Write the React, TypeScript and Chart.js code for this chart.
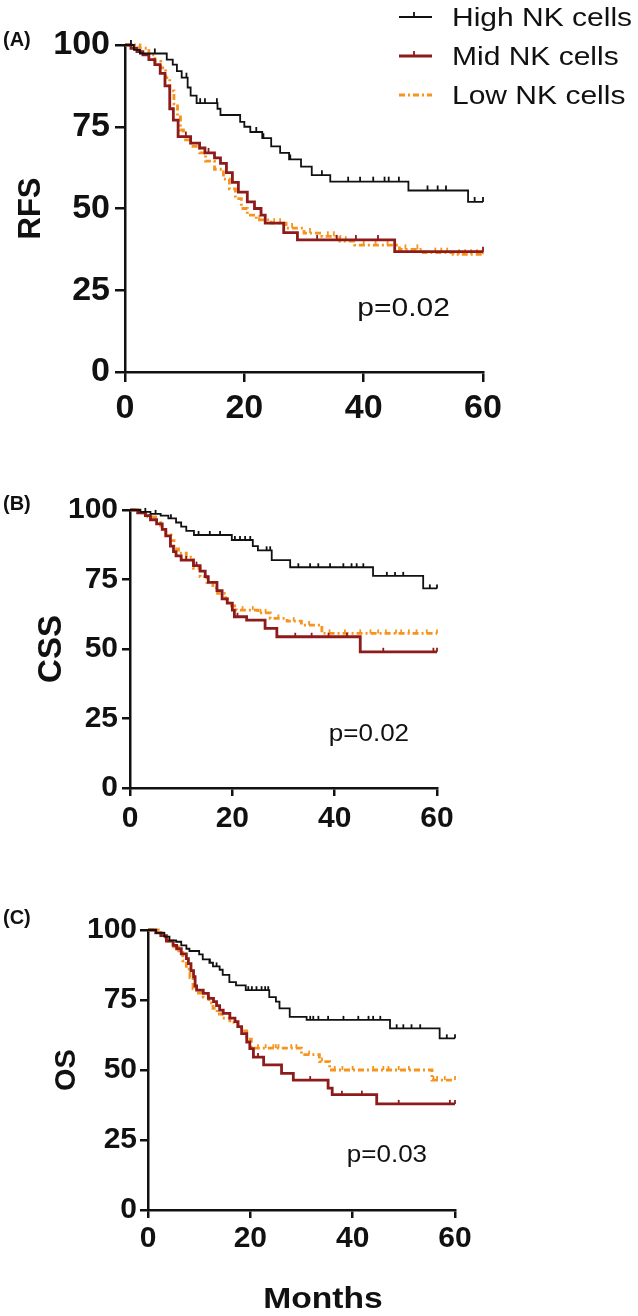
import React, { useEffect, useRef } from "react";
import { Chart, registerables } from "chart.js";
Chart.register(...registerables);
Chart.defaults.font.family = "'Liberation Sans', Arial, sans-serif";

type Pt = [number, number];

// ---------- shared labels ----------
const xTicks = [0, 20, 40, 60];
const yTicks = [0, 25, 50, 75, 100];
const seriesNames = ["High NK cells", "Mid NK cells", "Low NK cells"];
const seriesColors = ["#111111", "#8E1B1B", "#F7941D"];
const panelTitles = ["RFS", "CSS", "OS"];
const panelLetters = ["(A)", "(B)", "(C)"];
const pValues = ["p=0.02", "p=0.02", "p=0.03"];
const pValuePos: Pt = [46.7, 20];
const xAxisTitle = "Months";

// ---------- (A) RFS ----------
const rfsHighEvents: Pt[] = [[0,100],[1.5,98.5],[2.5,97.4],[7,95.5],[8,94],[8.7,92],[9.5,90],[10.5,87],[11,84.5],[12,82.2],[15.5,80.5],[16,78.6],[19.3,76.5],[20,75],[21,73.4],[23,71.5],[24.5,69],[26,67],[27.5,65],[29.5,62.8],[31.3,60.2],[34.4,58.2],[47.5,55.5],[57.5,52]];
const rfsHighCensors = [1,5,10.3,12.6,13.4,15.4,22,23.2,27.7,33,37.4,39.4,41.6,43.5,44.2,45.9,50.7,52.4,53.8,58.6,60];
const rfsMidEvents: Pt[] = [[0,100],[1,99],[2,98],[3,97],[4,95.5],[5,94],[5.9,91.3],[6.7,87.5],[7.5,80.5],[8.1,77],[8.9,72],[11,70],[12.5,68.5],[13.4,67],[15,65.5],[16,63.8],[17,61],[18,58],[19,55],[20.5,52],[21.7,50],[22.8,48],[23.5,45.5],[26.6,42.6],[28.9,40.4],[45.2,36.8]];
const rfsMidCensors = [10.2,14,32.2,35.5,38.7,42.4,60];
const rfsLowEvents: Pt[] = [[0,100],[2.5,99],[4,97],[5,95],[6,93],[6.8,90],[7.5,86],[8.2,82],[8.8,78],[9.3,74],[9.8,71],[11,69],[12.5,67],[13.5,64.5],[15,62],[16.5,59],[17.5,56],[18.5,53],[19.5,50],[20.5,48],[22,46.5],[24.5,45.5],[27,44],[30,42.5],[33,41.5],[36,40],[38.5,38.8],[46,37.5],[50,36.5],[55,36]];
const rfsLowCensors = [22.5,25,26,28,31,34,35,37,40,42,44,47,49,52,53,54,56,57,58,59,60];

// ---------- (B) CSS ----------
const cssHighEvents: Pt[] = [[0,100],[2,99.3],[4,98.6],[6,98],[7.5,97],[9,95.5],[10,94],[11,92.5],[12.5,91],[19.9,89.2],[24,87],[25,85.5],[27.7,82],[31.3,79.4],[47.5,76.3],[57.3,71.8]];
const cssHighCensors = [3,5,8,13.4,15.6,17.6,20.5,21.5,22.5,23.5,26.7,27.4,32.9,35.2,36.8,39.1,41.7,43.3,44.3,45.6,50.2,51.8,53.4,58.6,60];
const cssMidEvents: Pt[] = [[0,100],[1.5,99],[3,98],[4,96.5],[5.2,95],[6.3,93],[7,90.7],[7.9,87],[8.5,85],[9,83.5],[10,82],[12.4,80],[13.7,78],[14.7,76],[15.3,74],[17,71],[18,68],[19,66.5],[20,64],[20.4,61.6],[22.8,60.4],[26.4,57.4],[28.7,54.4],[45,49]];
const cssMidCensors = [11,13,21,32.3,35.5,38.8,42.4,49.5,59.3,60];
const cssLowEvents: Pt[] = [[0,100],[2,99],[3.5,97.5],[5,96],[6,93],[7,91],[8,89],[8.6,86],[9.5,84.5],[11,83],[12.4,79],[13.7,76],[15,74],[16.2,72],[17.1,70],[18.7,68],[19.4,65.5],[20.8,64],[25,63],[27.4,61],[30.7,60],[33.5,58.6],[37.5,55.6]];
const cssLowCensors = [22,24,25.5,26.5,29,32,35,39,42,45,47,48.5,50,52,53,54.5,56,58,60];

// ---------- (C) OS ----------
const osHighEvents: Pt[] = [[0,100],[1.6,99],[3.2,97.6],[4.2,96.3],[5.5,95.8],[6.5,94.5],[7.5,93.3],[8.1,92.5],[10,91.3],[10.7,89.5],[12,88.3],[12.7,87],[14,85.8],[14.6,84],[15.9,81.4],[17.2,80.2],[19.1,78.5],[23.7,76],[25,74.4],[25.7,72],[27.7,69],[31,67.9],[47.3,64.9],[57,61.3]];
const osHighCensors = [12.1,13.4,19.6,20.3,21.2,22.2,22.9,23.5,31.7,32.3,33.3,35.2,38.2,41.1,43.1,44,45.4,48.6,49.9,51.5,53.2,58.4,60];
const osMidEvents: Pt[] = [[0,100],[1.5,99],[2.5,98],[3.6,96],[4.9,94.5],[5.6,93.3],[6.5,91.5],[7.5,89.8],[7.9,88],[8.4,85.5],[8.9,83.3],[9.2,80],[9.5,78.5],[10.8,77.4],[11.8,75.6],[12.8,74.4],[13.4,73],[14,71.4],[14.7,70.2],[16,68.5],[17,67.3],[17.6,65.5],[18.3,63],[19.3,60],[19.9,57.6],[20.6,54.6],[22.6,51.8],[26.1,48.8],[28.4,46.4],[35.2,43.5],[36,41.2],[44.7,37.9]];
const osMidCensors = [21.5,31.7,37.9,41.8,49,59,60];
const osLowEvents: Pt[] = [[0,100],[2,99],[3,97.5],[4,96],[5,94],[6,92],[6.8,89],[7.5,86],[8.2,83],[8.8,79],[9.5,77.5],[10.8,76],[11.9,74],[12.7,72],[13.5,70],[14.5,68.5],[16,67],[17.5,65.5],[18.3,64],[19.3,61],[20.2,57.8],[30,55.5],[33.5,53],[35.5,50],[55.5,46.4]];
const osLowCensors = [21.5,23,24.5,25,25.5,28,29,31.5,34,36.5,38,40,44,46,47,49,51,55.8,56.5,58,60];

const panelEvents: Pt[][][] = [
  [rfsHighEvents, rfsMidEvents, rfsLowEvents],
  [cssHighEvents, cssMidEvents, cssLowEvents],
  [osHighEvents, osMidEvents, osLowEvents],
];
const panelCensors: number[][][] = [
  [rfsHighCensors, rfsMidCensors, rfsLowCensors],
  [cssHighCensors, cssMidCensors, cssLowCensors],
  [osHighCensors, osMidCensors, osLowCensors],
];

// ---------- layout (pixels) ----------
const panelLayout = [
  { top: 0, height: 440, yWidth: 125, padTop: 45, padRight: 155, xHeight: 68, tickFont: 34, tickLen: 10, yPad: 5, xPad: 6, titleFont: 31, titlePad: 13, censorR: 5, pFont: 25, pScale: 1.2, letterTop: 29 },
  { top: 460, height: 400, yWidth: 130, padTop: 50, padRight: 201, xHeight: 72, tickFont: 30, tickLen: 8, yPad: 4, xPad: 5, titleFont: 33, titlePad: 32, censorR: 4, pFont: 23, pScale: 1.13, letterTop: 493 },
  { top: 880, height: 436, yWidth: 148, padTop: 50, padRight: 183, xHeight: 106, tickFont: 30, tickLen: 8, yPad: 3, xPad: 3, titleFont: 29, titlePad: 50, censorR: 4, pFont: 23, pScale: 1.13, letterTop: 907 },
];

const lineWidths = [1.8, 2.8, 2.8];
const lineDashes: number[][] = [[], [], [6, 3, 2, 3]];

function buildPoints(events: Pt[], censors: number[]) {
  const pts: { x: number; y: number; c: boolean }[] = events.map(([x, y]) => ({ x, y, c: false }));
  censors.forEach((t) => {
    let s = events[0][1];
    for (const [et, es] of events) if (et <= t) s = es;
    pts.push({ x: t, y: s, c: true });
  });
  pts.sort((a, b) => a.x - b.x || (a.c ? 1 : 0) - (b.c ? 1 : 0));
  return pts;
}

const annotPlugin = {
  id: "annot",
  afterDatasetsDraw(chart: any) {
    const o = chart.options.plugins.annot;
    if (!o) return;
    const ctx = chart.ctx;
    const font = "'Liberation Sans', Arial, sans-serif";
    const px = chart.scales.x.getPixelForValue(pValuePos[0]);
    const py = chart.scales.y.getPixelForValue(pValuePos[1]);
    ctx.save();
    ctx.fillStyle = "#111";
    ctx.font = `${o.pFont}px ${font}`;
    ctx.textAlign = "center";
    ctx.textBaseline = "alphabetic";
    ctx.translate(px, py);
    ctx.scale(o.pScale, 1);
    ctx.fillText(o.pText, 0, o.pFont * 0.358);
    ctx.restore();
    if (o.legend) {
      const rows = [17, 56, 95];
      seriesNames.forEach((name, i) => {
        const y = rows[i];
        ctx.save();
        ctx.strokeStyle = seriesColors[i];
        ctx.lineWidth = lineWidths[i];
        ctx.setLineDash(lineDashes[i]);
        ctx.beginPath();
        ctx.moveTo(399, y);
        ctx.lineTo(432, y);
        ctx.stroke();
        if (i < 2) {
          ctx.setLineDash([]);
          ctx.lineWidth = 1.8;
          ctx.beginPath();
          ctx.moveTo(414, y);
          ctx.lineTo(414, y - 5);
          ctx.stroke();
        }
        ctx.restore();
        ctx.save();
        ctx.fillStyle = "#111";
        ctx.font = `25px ${font}`;
        ctx.textAlign = "left";
        ctx.textBaseline = "alphabetic";
        ctx.translate(452, y);
        ctx.scale(1.2, 1);
        ctx.fillText(name, 0, 9);
        ctx.restore();
      });
    }
  },
};

function Panel({ idx }: { idx: number }) {
  const ref = useRef<HTMLCanvasElement | null>(null);
  const L = panelLayout[idx];
  useEffect(() => {
    if (!ref.current) return;
    const datasets = seriesNames.map((name, i) => ({
      label: name,
      data: buildPoints(panelEvents[idx][i], panelCensors[idx][i]),
      borderColor: seriesColors[i],
      backgroundColor: seriesColors[i],
      borderWidth: lineWidths[i],
      borderDash: lineDashes[i],
      stepped: true,
      fill: false,
      clip: false as any,
      tension: 0,
      pointStyle: "dash",
      pointRotation: -90,
      pointBorderColor: seriesColors[i],
      pointBorderWidth: 1.8,
      pointRadius: (c: any) => (c.raw && c.raw.c ? L.censorR : 0),
      pointHoverRadius: 0,
    }));
    const chart = new Chart(ref.current, {
      type: "line",
      data: { datasets } as any,
      plugins: [annotPlugin as any],
      options: {
        responsive: false,
        animation: false,
        events: [],
        layout: { padding: { left: 0, top: L.padTop, right: L.padRight, bottom: 0 } },
        plugins: {
          legend: { display: false },
          tooltip: { enabled: false },
          annot: { pText: pValues[idx], pFont: L.pFont, pScale: L.pScale, legend: idx === 0 },
        } as any,
        scales: {
          x: {
            type: "linear",
            min: 0,
            max: 60,
            afterBuildTicks: (s: any) => {
              s.ticks = xTicks.map((v) => ({ value: v }));
            },
            afterFit: (s: any) => {
              s.height = L.xHeight;
            },
            ticks: { color: "#111", font: { size: L.tickFont, weight: "bold" }, padding: L.xPad, maxRotation: 0, autoSkip: false },
            grid: { display: true, drawOnChartArea: false, drawTicks: true, tickLength: L.tickLen, color: "#111", lineWidth: 2.5 },
            border: { display: true, color: "#111", width: 2.5 },
          },
          y: {
            type: "linear",
            min: 0,
            max: 100,
            afterBuildTicks: (s: any) => {
              s.ticks = yTicks.map((v) => ({ value: v }));
            },
            afterFit: (s: any) => {
              s.width = L.yWidth;
            },
            ticks: { color: "#111", font: { size: L.tickFont, weight: "bold" }, padding: L.yPad, autoSkip: false },
            grid: { display: true, drawOnChartArea: false, drawTicks: true, tickLength: L.tickLen, color: "#111", lineWidth: 2.5 },
            border: { display: true, color: "#111", width: 2.5 },
            title: {
              display: true,
              text: panelTitles[idx],
              color: "#111",
              font: { size: L.titleFont, weight: "bold" },
              padding: { top: L.titlePad, bottom: 0 },
            },
          },
        },
      } as any,
    });
    return () => chart.destroy();
  }, [idx]);
  return (
    <>
      <canvas
        ref={ref}
        width={638}
        height={L.height}
        style={{ position: "absolute", left: 0, top: L.top, width: 638, height: L.height, display: "block" }}
      />
      <div
        style={{
          position: "absolute",
          left: 3,
          top: L.letterTop,
          fontFamily: "'Liberation Sans', Arial, sans-serif",
          fontWeight: "bold",
          fontSize: 20,
          lineHeight: "20px",
          color: "#111",
        }}
      >
        {panelLetters[idx]}
      </div>
    </>
  );
}

export default function App() {
  return (
    <div style={{ position: "absolute", left: 0, top: 0, width: 638, height: 1316, overflow: "hidden", background: "#fff" }}>
      <Panel idx={0} />
      <Panel idx={1} />
      <Panel idx={2} />
      <div
        style={{
          position: "absolute",
          left: 223,
          width: 200,
          top: 1280,
          height: 36,
          lineHeight: "36px",
          textAlign: "center",
          fontFamily: "'Liberation Sans', Arial, sans-serif",
          fontWeight: "bold",
          fontSize: 30,
          color: "#111",
          transform: "scaleX(1.12)",
        }}
      >
        {xAxisTitle}
      </div>
    </div>
  );
}
